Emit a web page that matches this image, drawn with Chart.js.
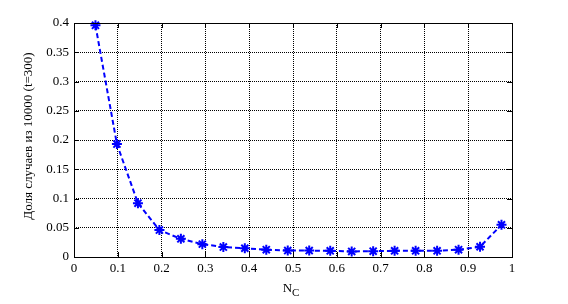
<!DOCTYPE html>
<html>
<head>
<meta charset="utf-8">
<script src="https://cdn.jsdelivr.net/npm/chart.js@4.4.0/dist/chart.umd.min.js"></script>
<style>
  html, body { margin: 0; padding: 0; background: #fff; }
  canvas { display: block; }
</style>
</head>
<body>
<canvas id="chart" width="568" height="304"></canvas>
<script>
// ── Данные ─────────────────────────────────────────────────────
const nc    = [0.049, 0.098, 0.146, 0.195, 0.244, 0.293, 0.341, 0.390, 0.439, 0.488,
               0.537, 0.585, 0.634, 0.683, 0.732, 0.780, 0.829, 0.878, 0.927, 0.976];
const share = [0.396, 0.193, 0.092, 0.046, 0.031, 0.022, 0.017, 0.015, 0.0125, 0.011,
               0.011, 0.0105, 0.0095, 0.010, 0.0105, 0.0105, 0.0105, 0.0125, 0.0175, 0.055];

const xTicks      = [0, 0.1, 0.2, 0.3, 0.4, 0.5, 0.6, 0.7, 0.8, 0.9, 1];
const xTickLabels = ["0", "0.1", "0.2", "0.3", "0.4", "0.5", "0.6", "0.7", "0.8", "0.9", "1"];
const yTicks      = [0, 0.05, 0.1, 0.15, 0.2, 0.25, 0.3, 0.35, 0.4];
const yTickLabels = ["0", "0.05", "0.1", "0.15", "0.2", "0.25", "0.3", "0.35", "0.4"];

const yTitle   = "Доля случаев из 10000 (t=300)";
const xTitle   = "N";
const xTitleSub = "C";

// ── Стиль ──────────────────────────────────────────────────────
const SERIF = "'Liberation Serif', 'Times New Roman', serif";
const AREA  = { left: 74, top: 23, right: 512, bottom: 257 };

// рамка, внутренние засечки и подписи осей в стиле MATLAB
const matlabFrame = {
  id: "matlabFrame",
  afterDraw(chart) {
    const { ctx, chartArea: a, scales } = chart;
    ctx.save();
    ctx.strokeStyle = "#000";
    ctx.lineWidth = 1;
    ctx.strokeRect(a.left + 0.5, a.top + 0.5, a.right - a.left, a.bottom - a.top);

    const tl = 5;
    ctx.beginPath();
    xTicks.forEach(v => {
      const x = Math.round(scales.x.getPixelForValue(v)) + 0.5;
      ctx.moveTo(x, a.bottom); ctx.lineTo(x, a.bottom - tl);
      ctx.moveTo(x, a.top);    ctx.lineTo(x, a.top + tl);
    });
    yTicks.forEach(v => {
      const y = Math.round(scales.y.getPixelForValue(v)) + 0.5;
      ctx.moveTo(a.left, y);  ctx.lineTo(a.left + tl, y);
      ctx.moveTo(a.right, y); ctx.lineTo(a.right - tl, y);
    });
    ctx.stroke();

    // подпись оси Y
    ctx.fillStyle = "#000";
    ctx.font = "13px " + SERIF;
    ctx.textAlign = "center";
    ctx.textBaseline = "middle";
    ctx.translate(29, 136);
    ctx.rotate(-Math.PI / 2);
    ctx.fillText(yTitle, 0, 0);
    ctx.setTransform(1, 0, 0, 1, 0, 0);

    // подпись оси X: N с индексом C
    ctx.textAlign = "left";
    ctx.textBaseline = "alphabetic";
    ctx.font = "13px " + SERIF;
    const wN = ctx.measureText(xTitle).width;
    ctx.font = "11px " + SERIF;
    const wC = ctx.measureText(xTitleSub).width;
    const x0 = 291 - (wN + wC) / 2;
    ctx.font = "13px " + SERIF;
    ctx.fillText(xTitle, x0, 292);
    ctx.font = "11px " + SERIF;
    ctx.fillText(xTitleSub, x0 + wN, 296);
    ctx.restore();
  }
};

new Chart(document.getElementById("chart"), {
  type: "scatter",
  data: {
    datasets: [{
      data: nc.map((x, i) => ({ x, y: share[i] })),
      showLine: true,
      borderColor: "#0000ff",
      borderWidth: 2,
      borderDash: [5, 3],
      pointStyle: "star",
      pointRadius: 5,
      pointBorderWidth: 2,
      pointBorderColor: "#0000ff",
      pointBackgroundColor: "#0000ff",
      clip: false,
    }],
  },
  options: {
    responsive: false,
    animation: false,
    events: [],
    layout: { padding: { left: 0, top: AREA.top, right: 568 - AREA.right, bottom: 0 } },
    plugins: { legend: { display: false }, tooltip: { enabled: false } },
    scales: {
      x: {
        type: "linear", min: 0, max: 1,
        afterBuildTicks: s => { s.ticks = xTicks.map(v => ({ value: v })); },
        afterFit: s => { s.height = 304 - AREA.bottom; },
        ticks: {
          autoSkip: false, maxRotation: 0, padding: 4,
          color: "#000", font: { family: SERIF, size: 13 },
          callback: (v, i) => xTickLabels[i],
        },
        grid: { color: "#000", lineWidth: 1, drawTicks: false },
        border: { display: false, dash: [1, 1] },
      },
      y: {
        type: "linear", min: 0, max: 0.4,
        afterBuildTicks: s => { s.ticks = yTicks.map(v => ({ value: v })); },
        afterFit: s => { s.width = AREA.left; },
        ticks: {
          autoSkip: false, padding: 5,
          color: "#000", font: { family: SERIF, size: 13 },
          callback: (v, i) => yTickLabels[i],
        },
        grid: { color: "#000", lineWidth: 1, drawTicks: false },
        border: { display: false, dash: [1, 1] },
      },
    },
  },
  plugins: [matlabFrame],
});
</script>
</body>
</html>
